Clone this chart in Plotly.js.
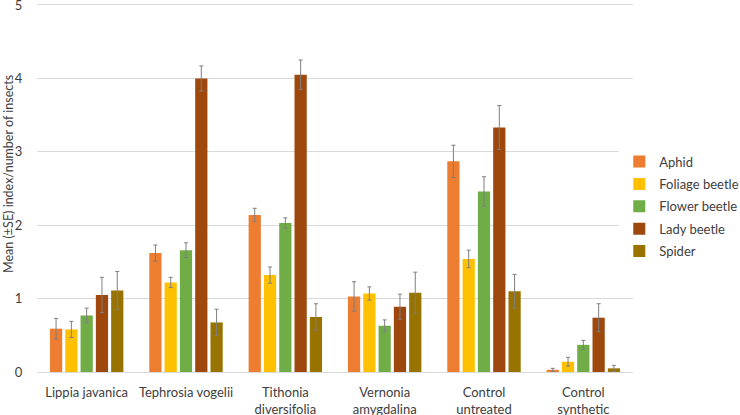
<!DOCTYPE html>
<html>
<head>
<meta charset="utf-8">
<script src="https://cdn.plot.ly/plotly-3.0.1.min.js"></script>
<style>html,body{margin:0;padding:0;background:#fff;}#chart{width:740px;height:415px;}</style>
</head>
<body>
<div id="chart"></div>
<script>
const categories = ["Lippia javanica", "Tephrosia vogelii", "Tithonia<br>diversifolia", "Vernonia<br>amygdalina", "Control<br>untreated", "Control<br>synthetic"];
const seriesNames = ["Aphid", "Foliage beetle", "Flower beetle", "Lady beetle", "Spider"];
const aphid = [0.59, 1.62, 2.14, 1.03, 2.87, 0.03];
const aphidSE = [0.14, 0.11, 0.09, 0.20, 0.22, 0.02];
const foliage = [0.58, 1.22, 1.32, 1.07, 1.54, 0.14];
const foliageSE = [0.11, 0.07, 0.11, 0.09, 0.12, 0.06];
const flower = [0.77, 1.66, 2.03, 0.63, 2.46, 0.37];
const flowerSE = [0.10, 0.10, 0.07, 0.08, 0.20, 0.06];
const lady = [1.05, 4.00, 4.05, 0.89, 3.33, 0.74];
const ladySE = [0.24, 0.17, 0.20, 0.17, 0.30, 0.19];
const spider = [1.11, 0.675, 0.75, 1.08, 1.10, 0.05];
const spiderSE = [0.26, 0.18, 0.18, 0.28, 0.23, 0.04];
const colors = ["#ED7D31", "#FFC000", "#70AD47", "#9E480E", "#997300"];
const yTitle = "Mean (±SE) index/number of insects";
const yTicks = [0, 1, 2, 3, 4, 5];

const values = [aphid, foliage, flower, lady, spider];
const errors = [aphidSE, foliageSE, flowerSE, ladySE, spiderSE];

const FONT = "Lato, 'Open Sans', sans-serif";
const traces = seriesNames.map((name, i) => ({
  type: "bar",
  name: name,
  legendgroup: "g" + i,
  x: categories,
  y: values[i],
  marker: {color: colors[i]},
  error_y: {type: "data", array: errors[i], visible: true, color: "#7f7f7f", thickness: 1, width: 2}
}));

const layout = {
  width: 740, height: 415,
  margin: {l: 37, r: 107, t: 0, b: 43, autoexpand: false},
  paper_bgcolor: "#fff", plot_bgcolor: "#fff",
  barmode: "group", bargap: 0.23, bargroupgap: 0.2,
  font: {family: FONT, size: 13, color: "#404040"},
  showlegend: true,
  legend: {x: 0.977, xanchor: "left", y: 0.606, yanchor: "top", traceorder: "grouped", tracegroupgap: 2.5,
           font: {family: FONT, size: 13, color: "#404040"}, itemwidth: 30},
  xaxis: {
    showgrid: false, showline: true, linecolor: "#d9d9d9", linewidth: 1,
    ticks: "", ticklabelstandoff: 8, automargin: false,
    tickfont: {family: FONT, size: 13, color: "#404040"}
  },
  yaxis: {
    range: [0, 5.068], tickvals: yTicks, showgrid: true, gridcolor: "#d9d9d9", gridwidth: 1,
    zeroline: false, showline: false, ticks: "outside", ticklen: 11, tickcolor: "rgba(0,0,0,0)", automargin: false,
    ticklabeloverflow: "allow",
    tickfont: {family: FONT, size: 13, color: "#404040"}
  },
  annotations: [{
    text: yTitle, textangle: -90, xref: "paper", yref: "paper",
    x: -0.049, xanchor: "center", y: 0.532, yanchor: "middle", showarrow: false,
    font: {family: FONT, size: 12.5, color: "#404040"}
  }]
};

Plotly.newPlot("chart", traces, layout, {displayModeBar: false, staticPlot: true});
</script>
</body>
</html>
